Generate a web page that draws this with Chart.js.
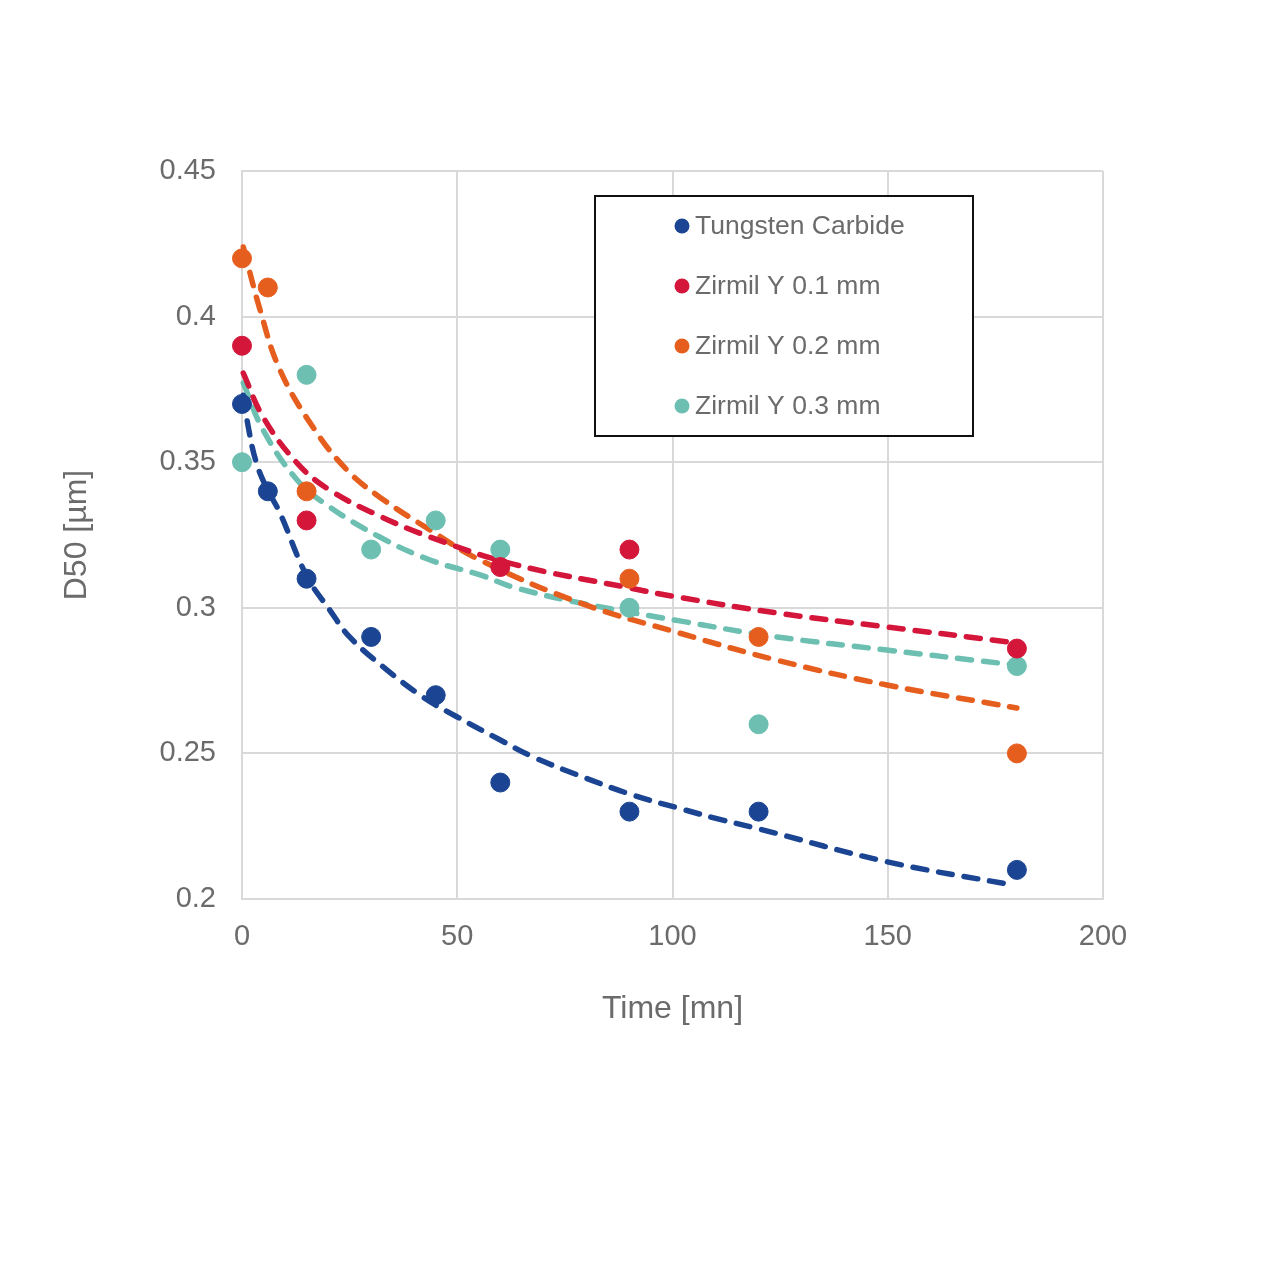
<!DOCTYPE html>
<html>
<head>
<meta charset="utf-8">
<script src="https://cdn.jsdelivr.net/npm/chart.js@4.4.1/dist/chart.umd.min.js"></script>
<style>
  html, body { margin: 0; padding: 0; background: #fff; }
  #wrap { width: 1280px; height: 1280px; }
</style>
</head>
<body>
<div id="wrap"><canvas id="c" width="1280" height="1280"></canvas></div>
<script>
const seriesNames = ["Tungsten Carbide", "Zirmil Y 0.1 mm", "Zirmil Y 0.2 mm", "Zirmil Y 0.3 mm"];
const seriesColors = ["#1b4593", "#d3163a", "#e65e1e", "#6cbfb1"];

const wcTime = [0, 6, 15, 30, 45, 60, 90, 120, 180];
const wcD50  = [0.37, 0.34, 0.31, 0.29, 0.27, 0.24, 0.23, 0.23, 0.21];

const z01Time = [0, 15, 60, 90, 180];
const z01D50  = [0.39, 0.33, 0.314, 0.32, 0.286];

const z02Time = [0, 6, 15, 90, 120, 180];
const z02D50  = [0.42, 0.41, 0.34, 0.31, 0.29, 0.25];

const z03Time = [0, 15, 30, 45, 60, 90, 120, 180];
const z03D50  = [0.35, 0.38, 0.32, 0.33, 0.32, 0.30, 0.26, 0.28];

// Courbes de tendance (pointillés)
const wcTrendX  = [0.3, 1.6, 3.3, 5.6, 8.8, 15, 20.4, 25, 32.8, 42, 50, 60, 67.6, 79.2, 90.8, 102.4, 110.3, 120.3, 149.8, 179];
const wcTrendY  = [0.373, 0.361, 0.350, 0.3415, 0.3326, 0.311, 0.2992, 0.290, 0.2797, 0.2694, 0.2625, 0.2546, 0.2488, 0.2419, 0.2357, 0.2308, 0.2276, 0.2240, 0.2128, 0.2048];
const z01TrendX = [0.3, 4.9, 12.8, 20.4, 32, 43.7, 63, 90.1, 100, 124.3, 149.8, 177.7, 180];
const z01TrendY = [0.3806, 0.3655, 0.3497, 0.3404, 0.3315, 0.3243, 0.3150, 0.3068, 0.3040, 0.2982, 0.2934, 0.2883, 0.2875];
const z02TrendX = [0.3, 4.2, 8.8, 16.5, 24.4, 32, 43.7, 55.3, 78.5, 101.7, 124.3, 149.8, 180];
const z02TrendY = [0.4239, 0.4023, 0.3817, 0.362, 0.3473, 0.338, 0.3267, 0.3164, 0.3017, 0.2913, 0.282, 0.2735, 0.2656];
const z03TrendX = [0.3, 4.9, 12.8, 20.4, 32, 43.7, 55.3, 63, 78.5, 101.7, 124.3, 149.8, 176, 180];
const z03TrendY = [0.3772, 0.3611, 0.3439, 0.3346, 0.3243, 0.3164, 0.3113, 0.3071, 0.3017, 0.2955, 0.29, 0.2855, 0.2810, 0.2804];

const xTicks = [0, 50, 100, 150, 200];
const yTicks = [0.2, 0.25, 0.3, 0.35, 0.4, 0.45];
const yTickLabels = ["0.2", "0.25", "0.3", "0.35", "0.4", "0.45"];

const FONT = "'Liberation Sans', Arial, Helvetica, sans-serif";
const TEXT = "#6b6b6b";
const GRID = "#d9d9d9";

const zip = (xs, ys) => xs.map((x, i) => ({ x, y: ys[i] }));

const pointSets = [[wcTime, wcD50], [z01Time, z01D50], [z02Time, z02D50], [z03Time, z03D50]];
const trendSets = [[wcTrendX, wcTrendY], [z01TrendX, z01TrendY], [z02TrendX, z02TrendY], [z03TrendX, z03TrendY]];

const datasets = [];
pointSets.forEach(([xs, ys], i) => {
  datasets.push({
    type: "scatter",
    label: seriesNames[i],
    data: zip(xs, ys),
    backgroundColor: seriesColors[i],
    borderColor: seriesColors[i],
    borderWidth: 1,
    pointRadius: 9.5,
    pointHoverRadius: 9.5,
    clip: false,
    isPoints: true
  });
});
trendSets.forEach(([xs, ys], i) => {
  datasets.push({
    type: "line",
    label: seriesNames[i] + " trend",
    data: zip(xs, ys),
    borderColor: seriesColors[i],
    borderWidth: 5.5,
    borderDash: [14, 12],
    borderCapStyle: "round",
    tension: 0.4,
    pointRadius: 0,
    clip: false,
    fill: false
  });
});

// Légende encadrée dans la zone de tracé
const boxLegend = {
  id: "boxLegend",
  afterDatasetsDraw(chart) {
    const ctx = chart.ctx;
    const x = 595, y = 196, w = 378, h = 240;
    ctx.save();
    ctx.fillStyle = "#fff";
    ctx.fillRect(x, y, w, h);
    ctx.strokeStyle = "#111";
    ctx.lineWidth = 2;
    ctx.strokeRect(x, y, w, h);
    ctx.font = "26.5px " + FONT;
    ctx.textBaseline = "middle";
    ctx.textAlign = "left";
    chart.data.datasets.filter(d => d.isPoints).forEach((d, i) => {
      const cy = 226 + i * 60;
      ctx.fillStyle = d.backgroundColor;
      ctx.beginPath();
      ctx.arc(682, cy, 7.5, 0, Math.PI * 2);
      ctx.fill();
      ctx.fillStyle = TEXT;
      ctx.fillText(d.label, 695, cy + 1);
    });
    ctx.restore();
  }
};

new Chart(document.getElementById("c"), {
  data: { datasets },
  plugins: [boxLegend],
  options: {
    responsive: false,
    animation: false,
    events: [],
    layout: { padding: { left: 0, right: 177, top: 171, bottom: 241 } },
    plugins: { legend: { display: false }, tooltip: { enabled: false } },
    scales: {
      x: {
        type: "linear",
        min: 0, max: 200,
        afterFit(s) { s.height = 140; },
        afterBuildTicks(s) { s.ticks = xTicks.map(v => ({ value: v })); },
        grid: { color: GRID, lineWidth: 2, drawTicks: false },
        border: { color: GRID, width: 2 },
        ticks: { color: TEXT, font: { family: FONT, size: 29 }, padding: 21, maxRotation: 0 },
        title: { display: true, text: "Time [mn]", color: TEXT, font: { family: FONT, size: 32 }, padding: { top: 0, bottom: 11 } }
      },
      y: {
        type: "linear",
        min: 0.2, max: 0.45,
        afterFit(s) { s.width = 242; },
        afterBuildTicks(s) { s.ticks = yTicks.map(v => ({ value: v })); },
        grid: { color: GRID, lineWidth: 2, drawTicks: false },
        border: { color: GRID, width: 2 },
        ticks: {
          color: TEXT, font: { family: FONT, size: 29 }, padding: 26,
          callback: (v) => yTickLabels[yTicks.findIndex(t => Math.abs(t - v) < 1e-9)]
        },
        title: { display: true, text: "D50 [µm]", color: TEXT, font: { family: FONT, size: 32 }, padding: { top: 58, bottom: 0 } }
      }
    }
  }
});
</script>
</body>
</html>
